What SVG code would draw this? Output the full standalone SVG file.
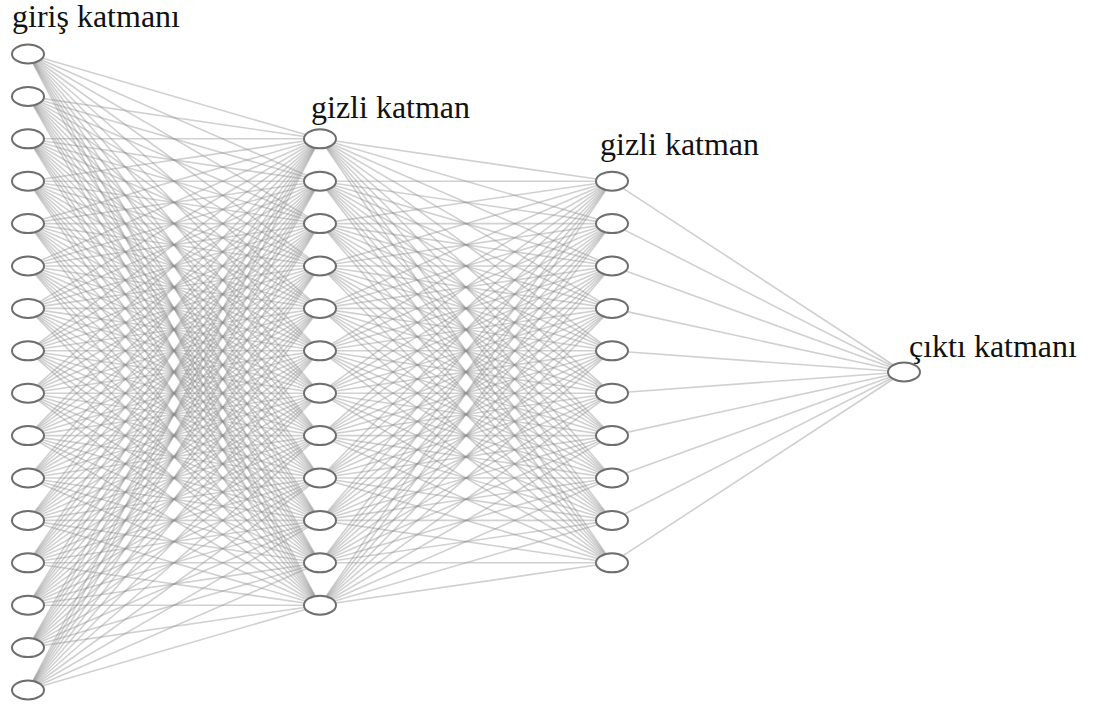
<svg xmlns="http://www.w3.org/2000/svg" width="1097" height="706" viewBox="0 0 1097 706">
<style>
  .w path { stroke: #8e8e8e; stroke-opacity: 0.42; stroke-width: 1.6; fill: none; }
  .n { fill: #ffffff; stroke: #6e6e6e; stroke-width: 2; }
  .lbl { font-family: "Liberation Serif", "Times New Roman", serif; font-size: 32px; fill: #111; }
</style>
<rect width="1097" height="706" fill="#ffffff"/>
<g id="connectors" class="w">
  <!-- input (x=28) to first hidden layer (x=320) -->
  <path d="M28 54L320 138.8"/><path d="M28 54L320 181.2"/><path d="M28 54L320 223.6"/><path d="M28 54L320 266"/><path d="M28 54L320 308.4"/><path d="M28 54L320 350.8"/><path d="M28 54L320 393.2"/><path d="M28 54L320 435.6"/><path d="M28 54L320 478"/><path d="M28 54L320 520.4"/><path d="M28 54L320 562.8"/><path d="M28 54L320 605.2"/>
  <path d="M28 96.4L320 138.8"/><path d="M28 96.4L320 181.2"/><path d="M28 96.4L320 223.6"/><path d="M28 96.4L320 266"/><path d="M28 96.4L320 308.4"/><path d="M28 96.4L320 350.8"/><path d="M28 96.4L320 393.2"/><path d="M28 96.4L320 435.6"/><path d="M28 96.4L320 478"/><path d="M28 96.4L320 520.4"/><path d="M28 96.4L320 562.8"/><path d="M28 96.4L320 605.2"/>
  <path d="M28 138.8L320 138.8"/><path d="M28 138.8L320 181.2"/><path d="M28 138.8L320 223.6"/><path d="M28 138.8L320 266"/><path d="M28 138.8L320 308.4"/><path d="M28 138.8L320 350.8"/><path d="M28 138.8L320 393.2"/><path d="M28 138.8L320 435.6"/><path d="M28 138.8L320 478"/><path d="M28 138.8L320 520.4"/><path d="M28 138.8L320 562.8"/><path d="M28 138.8L320 605.2"/>
  <path d="M28 181.2L320 138.8"/><path d="M28 181.2L320 181.2"/><path d="M28 181.2L320 223.6"/><path d="M28 181.2L320 266"/><path d="M28 181.2L320 308.4"/><path d="M28 181.2L320 350.8"/><path d="M28 181.2L320 393.2"/><path d="M28 181.2L320 435.6"/><path d="M28 181.2L320 478"/><path d="M28 181.2L320 520.4"/><path d="M28 181.2L320 562.8"/><path d="M28 181.2L320 605.2"/>
  <path d="M28 223.6L320 138.8"/><path d="M28 223.6L320 181.2"/><path d="M28 223.6L320 223.6"/><path d="M28 223.6L320 266"/><path d="M28 223.6L320 308.4"/><path d="M28 223.6L320 350.8"/><path d="M28 223.6L320 393.2"/><path d="M28 223.6L320 435.6"/><path d="M28 223.6L320 478"/><path d="M28 223.6L320 520.4"/><path d="M28 223.6L320 562.8"/><path d="M28 223.6L320 605.2"/>
  <path d="M28 266L320 138.8"/><path d="M28 266L320 181.2"/><path d="M28 266L320 223.6"/><path d="M28 266L320 266"/><path d="M28 266L320 308.4"/><path d="M28 266L320 350.8"/><path d="M28 266L320 393.2"/><path d="M28 266L320 435.6"/><path d="M28 266L320 478"/><path d="M28 266L320 520.4"/><path d="M28 266L320 562.8"/><path d="M28 266L320 605.2"/>
  <path d="M28 308.4L320 138.8"/><path d="M28 308.4L320 181.2"/><path d="M28 308.4L320 223.6"/><path d="M28 308.4L320 266"/><path d="M28 308.4L320 308.4"/><path d="M28 308.4L320 350.8"/><path d="M28 308.4L320 393.2"/><path d="M28 308.4L320 435.6"/><path d="M28 308.4L320 478"/><path d="M28 308.4L320 520.4"/><path d="M28 308.4L320 562.8"/><path d="M28 308.4L320 605.2"/>
  <path d="M28 350.8L320 138.8"/><path d="M28 350.8L320 181.2"/><path d="M28 350.8L320 223.6"/><path d="M28 350.8L320 266"/><path d="M28 350.8L320 308.4"/><path d="M28 350.8L320 350.8"/><path d="M28 350.8L320 393.2"/><path d="M28 350.8L320 435.6"/><path d="M28 350.8L320 478"/><path d="M28 350.8L320 520.4"/><path d="M28 350.8L320 562.8"/><path d="M28 350.8L320 605.2"/>
  <path d="M28 393.2L320 138.8"/><path d="M28 393.2L320 181.2"/><path d="M28 393.2L320 223.6"/><path d="M28 393.2L320 266"/><path d="M28 393.2L320 308.4"/><path d="M28 393.2L320 350.8"/><path d="M28 393.2L320 393.2"/><path d="M28 393.2L320 435.6"/><path d="M28 393.2L320 478"/><path d="M28 393.2L320 520.4"/><path d="M28 393.2L320 562.8"/><path d="M28 393.2L320 605.2"/>
  <path d="M28 435.6L320 138.8"/><path d="M28 435.6L320 181.2"/><path d="M28 435.6L320 223.6"/><path d="M28 435.6L320 266"/><path d="M28 435.6L320 308.4"/><path d="M28 435.6L320 350.8"/><path d="M28 435.6L320 393.2"/><path d="M28 435.6L320 435.6"/><path d="M28 435.6L320 478"/><path d="M28 435.6L320 520.4"/><path d="M28 435.6L320 562.8"/><path d="M28 435.6L320 605.2"/>
  <path d="M28 478L320 138.8"/><path d="M28 478L320 181.2"/><path d="M28 478L320 223.6"/><path d="M28 478L320 266"/><path d="M28 478L320 308.4"/><path d="M28 478L320 350.8"/><path d="M28 478L320 393.2"/><path d="M28 478L320 435.6"/><path d="M28 478L320 478"/><path d="M28 478L320 520.4"/><path d="M28 478L320 562.8"/><path d="M28 478L320 605.2"/>
  <path d="M28 520.4L320 138.8"/><path d="M28 520.4L320 181.2"/><path d="M28 520.4L320 223.6"/><path d="M28 520.4L320 266"/><path d="M28 520.4L320 308.4"/><path d="M28 520.4L320 350.8"/><path d="M28 520.4L320 393.2"/><path d="M28 520.4L320 435.6"/><path d="M28 520.4L320 478"/><path d="M28 520.4L320 520.4"/><path d="M28 520.4L320 562.8"/><path d="M28 520.4L320 605.2"/>
  <path d="M28 562.8L320 138.8"/><path d="M28 562.8L320 181.2"/><path d="M28 562.8L320 223.6"/><path d="M28 562.8L320 266"/><path d="M28 562.8L320 308.4"/><path d="M28 562.8L320 350.8"/><path d="M28 562.8L320 393.2"/><path d="M28 562.8L320 435.6"/><path d="M28 562.8L320 478"/><path d="M28 562.8L320 520.4"/><path d="M28 562.8L320 562.8"/><path d="M28 562.8L320 605.2"/>
  <path d="M28 605.2L320 138.8"/><path d="M28 605.2L320 181.2"/><path d="M28 605.2L320 223.6"/><path d="M28 605.2L320 266"/><path d="M28 605.2L320 308.4"/><path d="M28 605.2L320 350.8"/><path d="M28 605.2L320 393.2"/><path d="M28 605.2L320 435.6"/><path d="M28 605.2L320 478"/><path d="M28 605.2L320 520.4"/><path d="M28 605.2L320 562.8"/><path d="M28 605.2L320 605.2"/>
  <path d="M28 647.6L320 138.8"/><path d="M28 647.6L320 181.2"/><path d="M28 647.6L320 223.6"/><path d="M28 647.6L320 266"/><path d="M28 647.6L320 308.4"/><path d="M28 647.6L320 350.8"/><path d="M28 647.6L320 393.2"/><path d="M28 647.6L320 435.6"/><path d="M28 647.6L320 478"/><path d="M28 647.6L320 520.4"/><path d="M28 647.6L320 562.8"/><path d="M28 647.6L320 605.2"/>
  <path d="M28 690L320 138.8"/><path d="M28 690L320 181.2"/><path d="M28 690L320 223.6"/><path d="M28 690L320 266"/><path d="M28 690L320 308.4"/><path d="M28 690L320 350.8"/><path d="M28 690L320 393.2"/><path d="M28 690L320 435.6"/><path d="M28 690L320 478"/><path d="M28 690L320 520.4"/><path d="M28 690L320 562.8"/><path d="M28 690L320 605.2"/>
  <!-- first hidden layer (x=320) to second hidden layer (x=612) -->
  <path d="M320 138.8L612 181.2"/><path d="M320 138.8L612 223.6"/><path d="M320 138.8L612 266"/><path d="M320 138.8L612 308.4"/><path d="M320 138.8L612 350.8"/><path d="M320 138.8L612 393.2"/><path d="M320 138.8L612 435.6"/><path d="M320 138.8L612 478"/><path d="M320 138.8L612 520.4"/><path d="M320 138.8L612 562.8"/>
  <path d="M320 181.2L612 181.2"/><path d="M320 181.2L612 223.6"/><path d="M320 181.2L612 266"/><path d="M320 181.2L612 308.4"/><path d="M320 181.2L612 350.8"/><path d="M320 181.2L612 393.2"/><path d="M320 181.2L612 435.6"/><path d="M320 181.2L612 478"/><path d="M320 181.2L612 520.4"/><path d="M320 181.2L612 562.8"/>
  <path d="M320 223.6L612 181.2"/><path d="M320 223.6L612 223.6"/><path d="M320 223.6L612 266"/><path d="M320 223.6L612 308.4"/><path d="M320 223.6L612 350.8"/><path d="M320 223.6L612 393.2"/><path d="M320 223.6L612 435.6"/><path d="M320 223.6L612 478"/><path d="M320 223.6L612 520.4"/><path d="M320 223.6L612 562.8"/>
  <path d="M320 266L612 181.2"/><path d="M320 266L612 223.6"/><path d="M320 266L612 266"/><path d="M320 266L612 308.4"/><path d="M320 266L612 350.8"/><path d="M320 266L612 393.2"/><path d="M320 266L612 435.6"/><path d="M320 266L612 478"/><path d="M320 266L612 520.4"/><path d="M320 266L612 562.8"/>
  <path d="M320 308.4L612 181.2"/><path d="M320 308.4L612 223.6"/><path d="M320 308.4L612 266"/><path d="M320 308.4L612 308.4"/><path d="M320 308.4L612 350.8"/><path d="M320 308.4L612 393.2"/><path d="M320 308.4L612 435.6"/><path d="M320 308.4L612 478"/><path d="M320 308.4L612 520.4"/><path d="M320 308.4L612 562.8"/>
  <path d="M320 350.8L612 181.2"/><path d="M320 350.8L612 223.6"/><path d="M320 350.8L612 266"/><path d="M320 350.8L612 308.4"/><path d="M320 350.8L612 350.8"/><path d="M320 350.8L612 393.2"/><path d="M320 350.8L612 435.6"/><path d="M320 350.8L612 478"/><path d="M320 350.8L612 520.4"/><path d="M320 350.8L612 562.8"/>
  <path d="M320 393.2L612 181.2"/><path d="M320 393.2L612 223.6"/><path d="M320 393.2L612 266"/><path d="M320 393.2L612 308.4"/><path d="M320 393.2L612 350.8"/><path d="M320 393.2L612 393.2"/><path d="M320 393.2L612 435.6"/><path d="M320 393.2L612 478"/><path d="M320 393.2L612 520.4"/><path d="M320 393.2L612 562.8"/>
  <path d="M320 435.6L612 181.2"/><path d="M320 435.6L612 223.6"/><path d="M320 435.6L612 266"/><path d="M320 435.6L612 308.4"/><path d="M320 435.6L612 350.8"/><path d="M320 435.6L612 393.2"/><path d="M320 435.6L612 435.6"/><path d="M320 435.6L612 478"/><path d="M320 435.6L612 520.4"/><path d="M320 435.6L612 562.8"/>
  <path d="M320 478L612 181.2"/><path d="M320 478L612 223.6"/><path d="M320 478L612 266"/><path d="M320 478L612 308.4"/><path d="M320 478L612 350.8"/><path d="M320 478L612 393.2"/><path d="M320 478L612 435.6"/><path d="M320 478L612 478"/><path d="M320 478L612 520.4"/><path d="M320 478L612 562.8"/>
  <path d="M320 520.4L612 181.2"/><path d="M320 520.4L612 223.6"/><path d="M320 520.4L612 266"/><path d="M320 520.4L612 308.4"/><path d="M320 520.4L612 350.8"/><path d="M320 520.4L612 393.2"/><path d="M320 520.4L612 435.6"/><path d="M320 520.4L612 478"/><path d="M320 520.4L612 520.4"/><path d="M320 520.4L612 562.8"/>
  <path d="M320 562.8L612 181.2"/><path d="M320 562.8L612 223.6"/><path d="M320 562.8L612 266"/><path d="M320 562.8L612 308.4"/><path d="M320 562.8L612 350.8"/><path d="M320 562.8L612 393.2"/><path d="M320 562.8L612 435.6"/><path d="M320 562.8L612 478"/><path d="M320 562.8L612 520.4"/><path d="M320 562.8L612 562.8"/>
  <path d="M320 605.2L612 181.2"/><path d="M320 605.2L612 223.6"/><path d="M320 605.2L612 266"/><path d="M320 605.2L612 308.4"/><path d="M320 605.2L612 350.8"/><path d="M320 605.2L612 393.2"/><path d="M320 605.2L612 435.6"/><path d="M320 605.2L612 478"/><path d="M320 605.2L612 520.4"/><path d="M320 605.2L612 562.8"/>
  <!-- second hidden layer (x=612) to output (x=904) -->
  <path d="M612 181.2L904 372"/><path d="M612 223.6L904 372"/><path d="M612 266L904 372"/><path d="M612 308.4L904 372"/><path d="M612 350.8L904 372"/><path d="M612 393.2L904 372"/><path d="M612 435.6L904 372"/><path d="M612 478L904 372"/><path d="M612 520.4L904 372"/><path d="M612 562.8L904 372"/>
</g>
<g id="input-layer">
  <ellipse id="in-1" class="n" cx="28" cy="54" rx="16" ry="9.5"/>
  <ellipse id="in-2" class="n" cx="28" cy="96.4" rx="16" ry="9.5"/>
  <ellipse id="in-3" class="n" cx="28" cy="138.8" rx="16" ry="9.5"/>
  <ellipse id="in-4" class="n" cx="28" cy="181.2" rx="16" ry="9.5"/>
  <ellipse id="in-5" class="n" cx="28" cy="223.6" rx="16" ry="9.5"/>
  <ellipse id="in-6" class="n" cx="28" cy="266" rx="16" ry="9.5"/>
  <ellipse id="in-7" class="n" cx="28" cy="308.4" rx="16" ry="9.5"/>
  <ellipse id="in-8" class="n" cx="28" cy="350.8" rx="16" ry="9.5"/>
  <ellipse id="in-9" class="n" cx="28" cy="393.2" rx="16" ry="9.5"/>
  <ellipse id="in-10" class="n" cx="28" cy="435.6" rx="16" ry="9.5"/>
  <ellipse id="in-11" class="n" cx="28" cy="478" rx="16" ry="9.5"/>
  <ellipse id="in-12" class="n" cx="28" cy="520.4" rx="16" ry="9.5"/>
  <ellipse id="in-13" class="n" cx="28" cy="562.8" rx="16" ry="9.5"/>
  <ellipse id="in-14" class="n" cx="28" cy="605.2" rx="16" ry="9.5"/>
  <ellipse id="in-15" class="n" cx="28" cy="647.6" rx="16" ry="9.5"/>
  <ellipse id="in-16" class="n" cx="28" cy="690" rx="16" ry="9.5"/>
  <text class="lbl" x="12" y="27">giriş katmanı</text>
</g>
<g id="hidden-layer-1">
  <ellipse id="h1-1" class="n" cx="320" cy="138.8" rx="16" ry="9.5"/>
  <ellipse id="h1-2" class="n" cx="320" cy="181.2" rx="16" ry="9.5"/>
  <ellipse id="h1-3" class="n" cx="320" cy="223.6" rx="16" ry="9.5"/>
  <ellipse id="h1-4" class="n" cx="320" cy="266" rx="16" ry="9.5"/>
  <ellipse id="h1-5" class="n" cx="320" cy="308.4" rx="16" ry="9.5"/>
  <ellipse id="h1-6" class="n" cx="320" cy="350.8" rx="16" ry="9.5"/>
  <ellipse id="h1-7" class="n" cx="320" cy="393.2" rx="16" ry="9.5"/>
  <ellipse id="h1-8" class="n" cx="320" cy="435.6" rx="16" ry="9.5"/>
  <ellipse id="h1-9" class="n" cx="320" cy="478" rx="16" ry="9.5"/>
  <ellipse id="h1-10" class="n" cx="320" cy="520.4" rx="16" ry="9.5"/>
  <ellipse id="h1-11" class="n" cx="320" cy="562.8" rx="16" ry="9.5"/>
  <ellipse id="h1-12" class="n" cx="320" cy="605.2" rx="16" ry="9.5"/>
  <text class="lbl" x="311" y="118">gizli katman</text>
</g>
<g id="hidden-layer-2">
  <ellipse id="h2-1" class="n" cx="612" cy="181.2" rx="16" ry="9.5"/>
  <ellipse id="h2-2" class="n" cx="612" cy="223.6" rx="16" ry="9.5"/>
  <ellipse id="h2-3" class="n" cx="612" cy="266" rx="16" ry="9.5"/>
  <ellipse id="h2-4" class="n" cx="612" cy="308.4" rx="16" ry="9.5"/>
  <ellipse id="h2-5" class="n" cx="612" cy="350.8" rx="16" ry="9.5"/>
  <ellipse id="h2-6" class="n" cx="612" cy="393.2" rx="16" ry="9.5"/>
  <ellipse id="h2-7" class="n" cx="612" cy="435.6" rx="16" ry="9.5"/>
  <ellipse id="h2-8" class="n" cx="612" cy="478" rx="16" ry="9.5"/>
  <ellipse id="h2-9" class="n" cx="612" cy="520.4" rx="16" ry="9.5"/>
  <ellipse id="h2-10" class="n" cx="612" cy="562.8" rx="16" ry="9.5"/>
  <text class="lbl" x="600" y="155">gizli katman</text>
</g>
<g id="output-layer">
  <ellipse id="out-1" class="n" cx="904" cy="372" rx="16" ry="9.5"/>
  <text class="lbl" x="909" y="357">çıktı katmanı</text>
</g>
</svg>
